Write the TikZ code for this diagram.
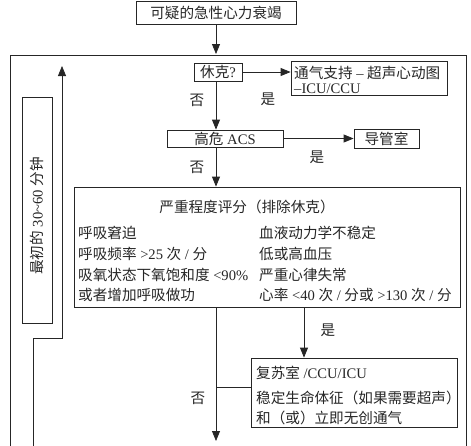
\documentclass[tikz,border=0pt]{standalone}
\usepackage{fontspec}
\setmainfont{Liberation Serif}
\newfontfamily\zhfont{Noto Sans CJK SC}
\newcommand\zh[1]{{\zhfont #1}}
\usetikzlibrary{arrows.meta}
\begin{document}
\begin{tikzpicture}[x=1pt,y=-1pt,
  every node/.style={font=\fontsize{14.6}{17}\selectfont, text=black!85},
  box/.style={draw=black!85, line width=0.8pt, inner sep=0pt},
  txt/.style={inner sep=0pt, anchor=west},
  lbl/.style={inner sep=0pt},
  ln/.style={draw=black!85, line width=0.8pt},
  arr/.style={ln, -{Triangle[length=10pt,width=8pt]}}]
\path[use as bounding box] (0,0) rectangle (471,445);

% outer frame
\coordinate (fbl) at (10.5,446);
\coordinate (ftl) at (10.5,55);
\coordinate (ftr) at (466.5,55);
\coordinate (fbr) at (466.5,446);
\draw[ln] (fbl) -- (ftl) -- (ftr) -- (fbr);

% axis coordinates
\coordinate (ax) at (216,0);
\coordinate (rx) at (304,0);

% nodes
\node[box, minimum width=160pt, minimum height=23pt] (top) at (216,12.5) {\zh{可疑的急性心力衰竭}};
\node[box, minimum width=48pt, minimum height=18pt] (shock) at (218,72) {\zh{休克}?};
\node[box, minimum width=156pt, minimum height=34pt] (vent) at (369,78) {};
\node[txt] (vent1) at (294,73) {\zh{通气支持} – \zh{超声心动图}};
\node[txt] (vent2) at (294,88.5) {–ICU/CCU};
\node[box, minimum width=116pt, minimum height=17pt] (acs) at (225,138.5) {\zh{高危} ACS};
\node[box, minimum width=65pt, minimum height=19pt] (cath) at (386.5,138.5) {\zh{导管室}};

\node[box, minimum width=386pt, minimum height=120pt] (sev) at (267,247) {};
\node[lbl] (sevt) at (247,207) {\zh{严重程度评分（排除休克）}};
\node[txt] (s1) at (78,233) {\zh{呼吸窘迫}};
\node[txt] (s2) at (78,254) {\zh{呼吸频率} >25 \zh{次} / \zh{分}};
\node[txt] (s3) at (78,275) {\zh{吸氧状态下氧饱和度} <90\%};
\node[txt] (s4) at (78,295) {\zh{或者增加呼吸做功}};
\node[txt] (r1) at (259,233) {\zh{血液动力学不稳定}};
\node[txt] (r2) at (259,254) {\zh{低或高血压}};
\node[txt] (r3) at (259,275) {\zh{严重心律失常}};
\node[txt] (r4) at (259,295) {\zh{心率} <40 \zh{次} / \zh{分或} >130 \zh{次} / \zh{分}};

\node[box, minimum width=206pt, minimum height=69pt] (resus) at (354,392.5) {};
\node[txt] (q1) at (256,373) {\zh{复苏室} /CCU/ICU};
\node[txt] (q2) at (256,398) {\zh{稳定生命体征（如果需要超声）}};
\node[txt] (q3) at (256,418) {\zh{和（或）立即无创通气}};

\node[box, minimum width=30pt, minimum height=226pt] (time) at (37,210) {};
\node[lbl, rotate=90] (timet) at (37,216) {\zh{最初的} 30\textasciitilde60 \zh{分钟}};

% labels
\node[lbl] (no1) at (197,100) {\zh{否}};
\node[lbl] (yes1) at (268,99) {\zh{是}};
\node[lbl] (no2) at (197,167) {\zh{否}};
\node[lbl] (yes2) at (317,157) {\zh{是}};
\node[lbl] (yes3) at (328,330) {\zh{是}};
\node[lbl] (no3) at (198,398) {\zh{否}};

% connectors
\coordinate (fin) at (216,54);
\coordinate (end) at (216,441);
\coordinate (ly) at (0,387);
\draw[arr] (top.south -| ax) -- (fin);
\draw[arr] (shock.east) -- (vent.west |- shock.east);
\draw[arr] (shock.south -| ax) -- (acs.north -| ax);
\draw[arr] (acs.east) -- (cath.west |- acs.east);
\draw[arr] (acs.south -| ax) -- (sev.north -| ax);
\draw[arr] (sev.south -| ax) -- (end);
\draw[arr] (sev.south -| rx) -- (resus.north -| rx);
\draw[ln] (resus.west |- ly) -- (ly -| ax);

% loop back
\coordinate (l1) at (33,446);
\coordinate (l2) at (33,338);
\coordinate (l3) at (62,338);
\coordinate (l4) at (62,66);
\draw[arr] (l1) -- (l2) -- (l3) -- (l4);
\end{tikzpicture}
\end{document}
